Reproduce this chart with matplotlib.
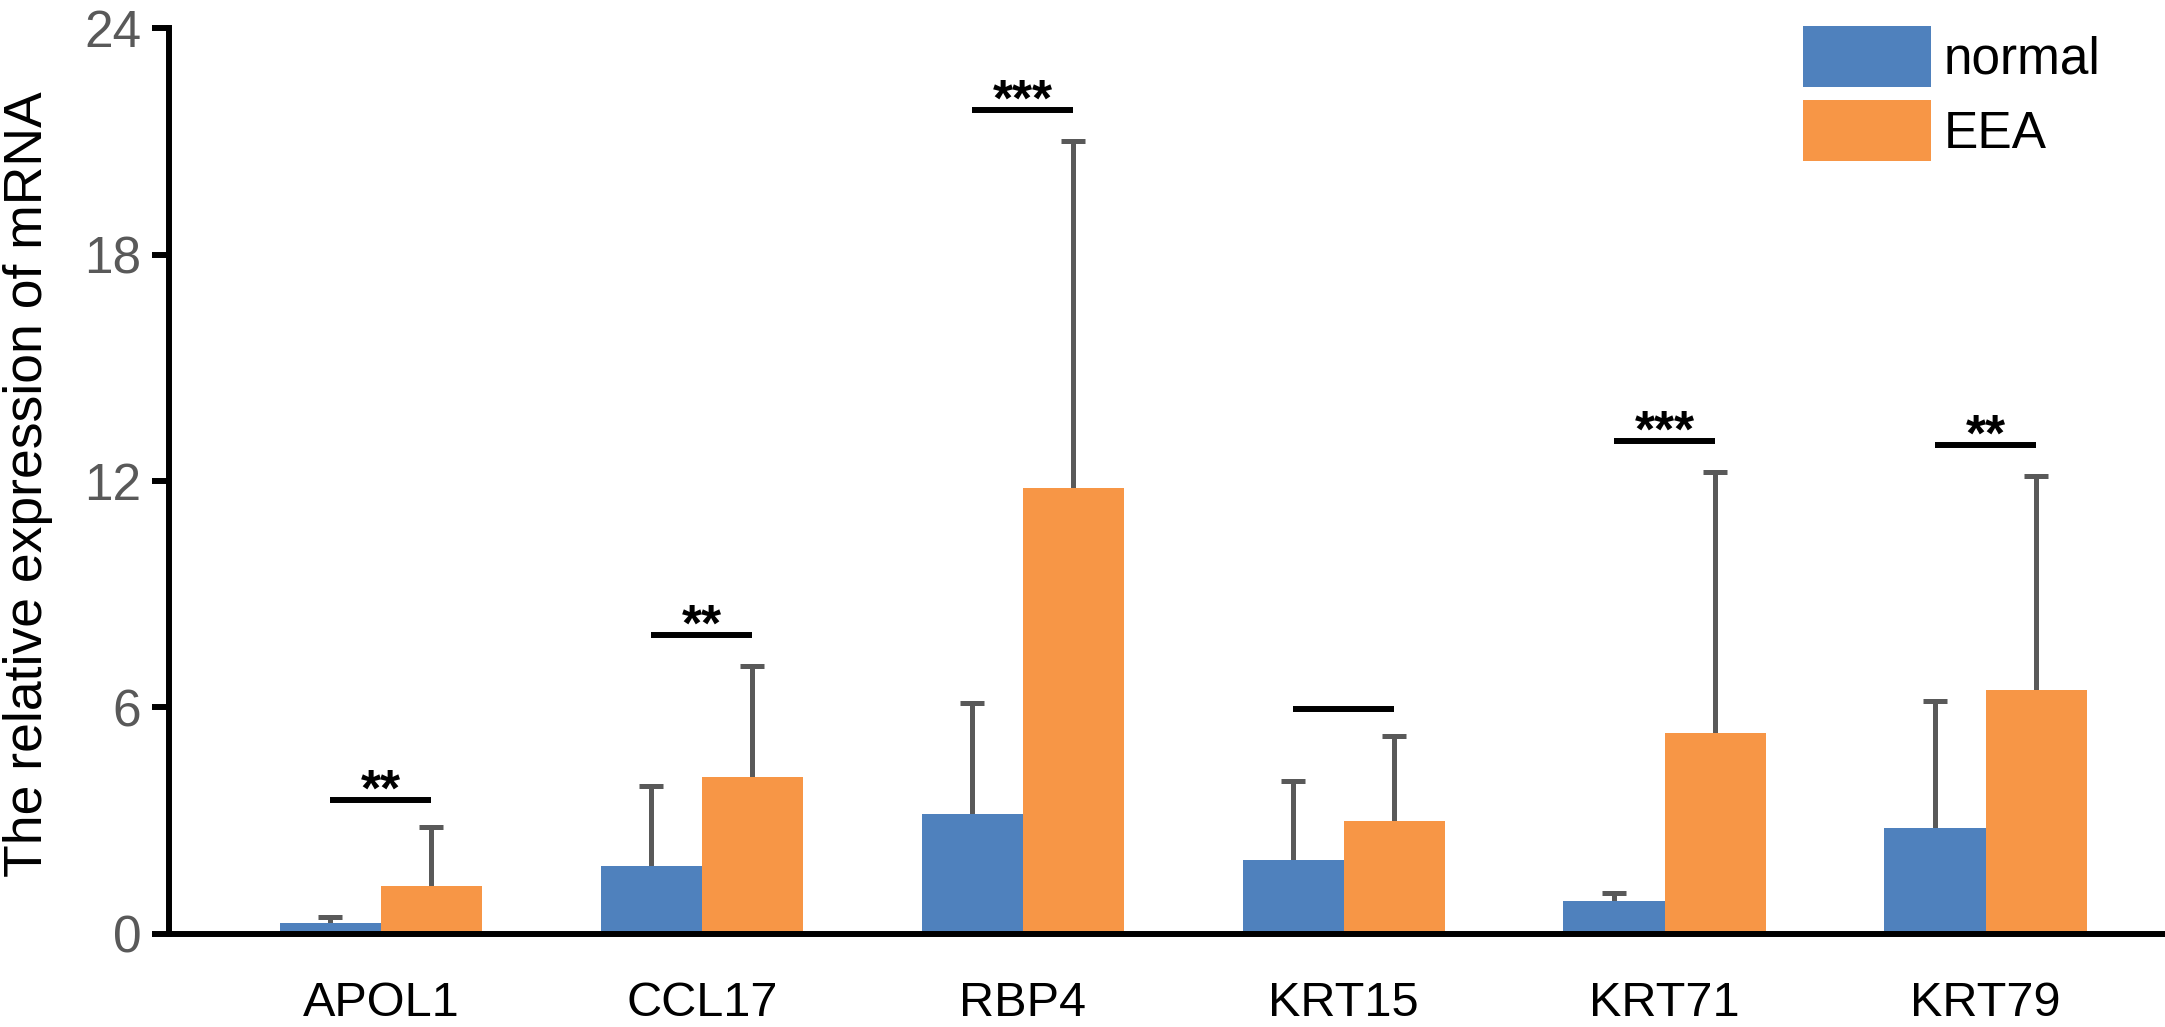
import numpy as np
import matplotlib
matplotlib.use("Agg")
import matplotlib.pyplot as plt

plt.rcParams['font.family'] = ['Liberation Sans', 'DejaVu Sans']

genes = ["APOL1", "CCL17", "RBP4", "KRT15", "KRT71", "KRT79"]
normal = [0.29, 1.80, 3.17, 1.96, 0.88, 2.81]
normal_err = [0.16, 2.12, 2.96, 2.08, 0.20, 3.35]
eea = [1.27, 4.16, 11.82, 2.99, 5.32, 6.46]
eea_err = [1.57, 2.95, 9.20, 2.26, 6.93, 5.68]
sig_marks = ["**", "**", "***", "", "***", "**"]
sig_heights = [3.55, 7.91, 21.83, 5.97, 13.06, 12.95]

blue = "#4F81BD"
orange = "#F79646"
err_col = "#595959"

fig = plt.figure(figsize=(21.65, 10.27), dpi=100)
ax = fig.add_axes([0.0781, 0.0906, 0.922, 0.8821])

x = np.arange(len(genes))
w = 0.315

ax.bar(x - w / 2, normal, w, color=blue, label="normal", zorder=2)
ax.bar(x + w / 2, eea, w, color=orange, label="EEA", zorder=2)

# upper error bars only
for xs, vals, errs in [(x - w / 2, normal, normal_err), (x + w / 2, eea, eea_err)]:
    eb = ax.errorbar(xs, vals, yerr=[np.zeros(len(xs)), errs], fmt="none",
                     ecolor=err_col, elinewidth=3.6, capsize=8.3, capthick=3.6,
                     zorder=1)
    eb[1][0].set_visible(False)

for i, (mark, h) in enumerate(zip(sig_marks, sig_heights)):
    ax.plot([i - w / 2, i + w / 2], [h, h], color="black", lw=4.3,
            solid_capstyle="butt")
    if mark:
        ax.annotate(mark, (i, h), xytext=(0, -4), textcoords="offset points",
                    ha="center", va="baseline", fontsize=37, fontweight="bold")

ax.set_xlim(-0.66, 5.56)
ax.set_ylim(0, 24)
ax.set_yticks([0, 6, 12, 18, 24])
ax.set_xticks(x)
ax.set_xticklabels(genes)

for s in ["top", "right"]:
    ax.spines[s].set_visible(False)
ax.spines["left"].set_linewidth(4.3)
ax.spines["bottom"].set_linewidth(4.3)

ax.tick_params(axis="y", length=12, width=4.3, pad=8, labelsize=37,
               labelcolor=err_col)
ax.tick_params(axis="x", length=0, pad=34, labelsize=35)

ax.set_ylabel("The relative expression of mRNA", fontsize=38.5)
ax.yaxis.set_label_coords(-0.058, 0.496)

fig.legend(loc="upper left", bbox_to_anchor=(1803 / 2165, 1 - 26 / 1027),
           frameon=False, fontsize=37, handlelength=2.5, handleheight=1.45,
           labelspacing=0.26, handletextpad=0.24, borderpad=0, borderaxespad=0)

fig.savefig("out.png", dpi=100)
